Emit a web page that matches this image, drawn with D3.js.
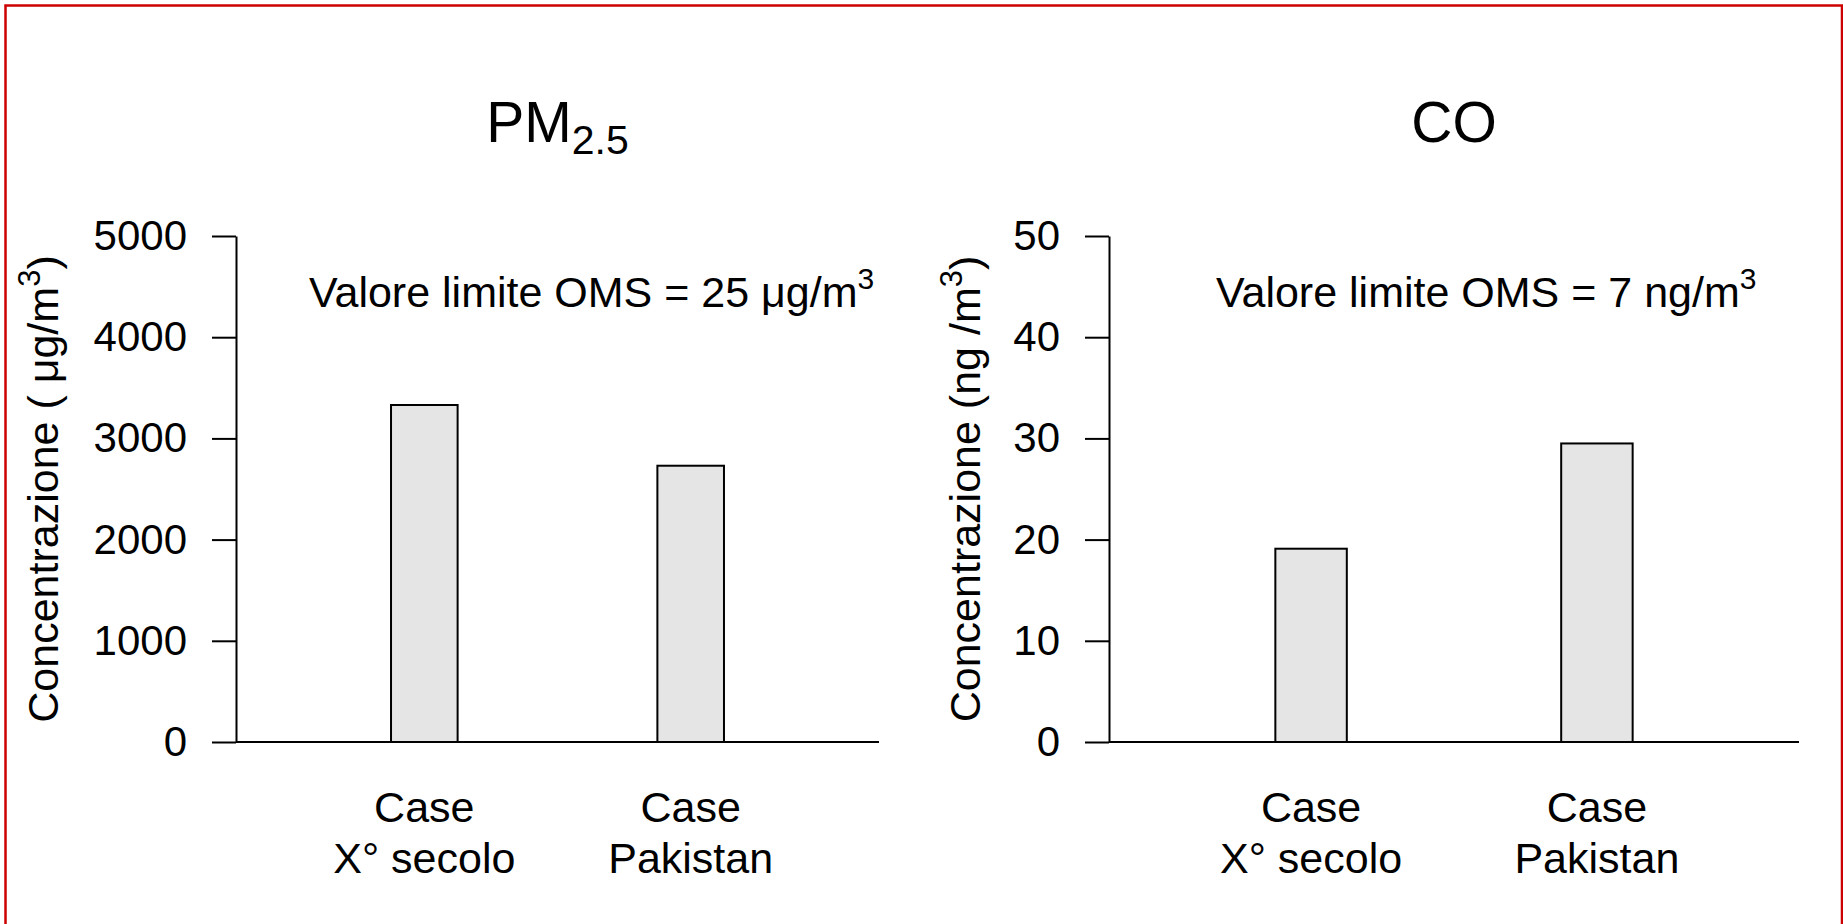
<!DOCTYPE html>
<html>
<head>
<meta charset="utf-8">
<script src="https://cdn.jsdelivr.net/npm/d3@7"></script>
<style>
  html, body { margin: 0; padding: 0; background: #fff; }
  svg text { font-family: "Liberation Sans", Arial, sans-serif; fill: #000; }
</style>
</head>
<body>
<div class="chart-container"></div>
<script>
// Data
const categories = ["Case X° secolo", "Case Pakistan"];
const categoryLines = [["Case", "X° secolo"], ["Case", "Pakistan"]];
const pm25Values = [3330, 2730];
const coValues = [19.1, 29.5];
const pm25Ticks = [0, 1000, 2000, 3000, 4000, 5000];
const coTicks = [0, 10, 20, 30, 40, 50];

function draw() {
    // Declare the chart dimensions.
    const width = 1843;
    const height = 924;
    const plotTop = 236;
    const plotBottom = 742;

    const svg = d3.select('.chart-container').append("svg")
        .attr("width", width)
        .attr("height", height);

    // Red frame (no bottom edge visible)
    svg.append("path")
        .attr("d", `M5.5,${height + 5} V5.5 H1842 V${height + 5}`)
        .attr("fill", "none")
        .attr("stroke", "#cc0000")
        .attr("stroke-width", 2.5);

    const panels = [
        {
            values: pm25Values, ticks: pm25Ticks,
            left: 236, right: 879,
            title: "PM", titleSub: "2.5",
            ylab: "Concentrazione ( μg/m", ylabX: 58,
            note: "Valore limite OMS = 25 μg/m", noteX: 309
        },
        {
            values: coValues, ticks: coTicks,
            left: 1109, right: 1799,
            title: "CO", titleSub: "",
            ylab: "Concentrazione (ng /m", ylabX: 980,
            note: "Valore limite OMS = 7 ng/m", noteX: 1216
        }
    ];

    panels.forEach(p => {
        const g = svg.append("g");

        // Scales
        const x = d3.scalePoint()
            .domain(categories)
            .range([p.left, p.right])
            .padding(0.707);
        const barWidth = x.step() * 0.25;

        const y = d3.scaleLinear()
            .domain([0, d3.max(p.ticks)])
            .range([plotBottom, plotTop]);

        // Bars
        g.selectAll("rect.bar")
            .data(p.values)
            .enter()
            .append("rect")
            .attr("class", "bar")
            .attr("x", (d, i) => x(categories[i]) - barWidth / 2)
            .attr("y", d => y(d))
            .attr("width", barWidth)
            .attr("height", d => y(0) - y(d))
            .attr("fill", "#e5e5e5")
            .attr("stroke", "#000")
            .attr("stroke-width", 2);

        // Baseline
        g.append("line")
            .attr("x1", p.left)
            .attr("x2", p.right)
            .attr("y1", y(0))
            .attr("y2", y(0))
            .attr("stroke", "#000")
            .attr("stroke-width", 2);

        // Y axis
        const yAxis = g.append("g")
            .attr("transform", `translate(${p.left},0)`)
            .call(d3.axisLeft(y)
                .tickValues(p.ticks)
                .tickFormat(d3.format("d"))
                .tickSize(24)
                .tickSizeOuter(0)
                .tickPadding(25));
        yAxis.select(".domain").attr("stroke-width", 2);
        yAxis.selectAll(".tick line").attr("stroke-width", 2);
        yAxis.selectAll(".tick text")
            .attr("font-size", 42)
            .attr("font-family", "Liberation Sans, Arial, sans-serif");

        // X category labels
        const xl = g.selectAll("text.xlab")
            .data(categoryLines)
            .enter()
            .append("text")
            .attr("class", "xlab")
            .attr("text-anchor", "middle")
            .attr("font-size", 43);
        xl.append("tspan")
            .attr("x", (d, i) => x(categories[i]))
            .attr("y", 822)
            .text(d => d[0]);
        xl.append("tspan")
            .attr("x", (d, i) => x(categories[i]))
            .attr("y", 873)
            .text(d => d[1]);

        // Title
        const t = g.append("text")
            .attr("x", (p.left + p.right) / 2)
            .attr("y", 142)
            .attr("text-anchor", "middle")
            .attr("font-size", 57)
            .text(p.title);
        if (p.titleSub) {
            t.append("tspan")
                .attr("dy", 12)
                .attr("font-size", 41)
                .text(p.titleSub);
        }

        // Y axis label
        const yl = g.append("text")
            .attr("transform", `translate(${p.ylabX},${(plotTop + plotBottom) / 2}) rotate(-90)`)
            .attr("text-anchor", "middle")
            .attr("font-size", 43)
            .text(p.ylab);
        yl.append("tspan").attr("dy", -18).attr("font-size", 31).text("3");
        yl.append("tspan").attr("dy", 18).text(")");

        // WHO limit note
        const n = g.append("text")
            .attr("x", p.noteX)
            .attr("y", 307)
            .attr("font-size", 43)
            .text(p.note);
        n.append("tspan").attr("dy", -18).attr("font-size", 30).text("3");
    });
}

draw();
</script>
</body>
</html>
